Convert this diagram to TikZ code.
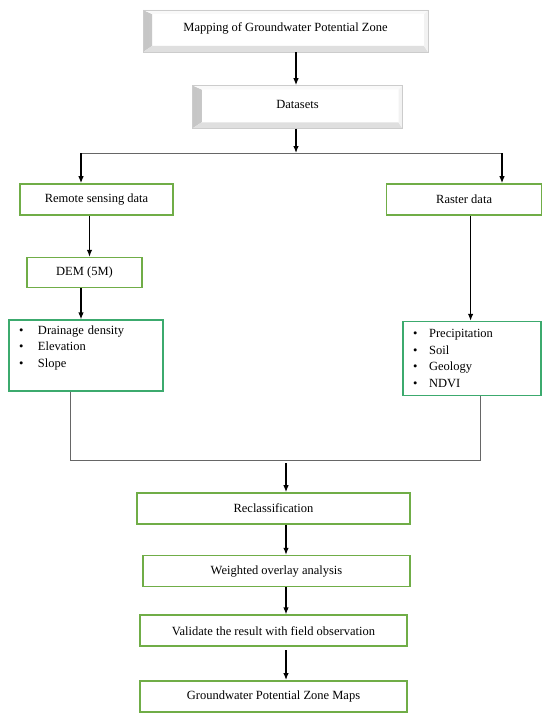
\documentclass[tikz,border=0pt]{standalone}
\usepackage{fontspec}
\setmainfont{Liberation Serif}
\usetikzlibrary{positioning,arrows.meta}
\definecolor{boxgreen}{RGB}{112,173,71}
\definecolor{listgreen}{RGB}{60,170,110}

\begin{document}
\begin{tikzpicture}
[x=1pt,y=1pt,>={Latex[length=7pt,width=5.5pt]},
 bevelbox/.style={draw=gray!40,fill=white,inner sep=0pt,font=\fontsize{12.5}{14}\selectfont,
   path picture={
     \shade[left color=gray!45,right color=gray!6] (path picture bounding box.south west) -- (path picture bounding box.north west)
       -- ([xshift=9pt,yshift=-4pt]path picture bounding box.north west) -- ([xshift=9pt,yshift=6pt]path picture bounding box.south west) -- cycle;
     \fill[gray!25] (path picture bounding box.south west) -- ([xshift=9pt,yshift=6pt]path picture bounding box.south west)
       -- ([xshift=-4pt,yshift=6pt]path picture bounding box.south east) -- (path picture bounding box.south east) -- cycle;
     \fill[gray!10] (path picture bounding box.north east) -- ([xshift=-4pt,yshift=-4pt]path picture bounding box.north east)
       -- ([xshift=-4pt,yshift=6pt]path picture bounding box.south east) -- (path picture bounding box.south east) -- cycle;
     \fill[gray!5] (path picture bounding box.north west) -- ([xshift=9pt,yshift=-4pt]path picture bounding box.north west)
       -- ([xshift=-4pt,yshift=-4pt]path picture bounding box.north east) -- (path picture bounding box.north east) -- cycle;}},
 stepbox/.style={draw=boxgreen,line width=1.6pt,minimum height=31pt,inner sep=0pt,font=\fontsize{12.5}{14}\selectfont},
 listbox/.style={draw=listgreen,line width=1.6pt,align=left,inner xsep=10pt,inner ysep=0pt,font=\fontsize{12.5}{16.5}\selectfont},
 link/.style={->,line width=1.2pt},
 wire/.style={draw=gray!80!black,line width=0.9pt}]
\useasboundingbox (0,0) rectangle (550,-717);
% top of the chart
\node[bevelbox,minimum width=285pt,minimum height=42pt] (map) at (285.5,-31) {\raisebox{7pt}{Mapping of Groundwater Potential Zone}};
\node[bevelbox,minimum width=210pt,minimum height=43pt,below=33pt of map,xshift=12pt] (data) {\raisebox{4pt}{Datasets}};
% two branches
\node[stepbox,minimum width=153pt] (remote) at (96.5,-199.5) {Remote sensing data};
\node[stepbox,minimum width=155pt,right=212pt of remote] (raster) {Raster data};
\node[stepbox,minimum width=115pt,minimum height=30pt,below=41pt of remote,xshift=-12pt] (dem) {DEM (5M)};
\node[listbox,text width=134pt,minimum height=71pt,below=31pt of dem,xshift=1.5pt] (llist)
  {\makebox[19pt][l]{\textbullet}Drainage density\\\makebox[19pt][l]{\textbullet}Elevation\\\makebox[19pt][l]{\textbullet}Slope\\[2pt]~};
\node[listbox,text width=118pt,minimum height=74pt,below=105pt of raster,xshift=8pt] (rlist)
  {\makebox[16pt][l]{\textbullet}Precipitation\\\makebox[16pt][l]{\textbullet}Soil\\\makebox[16pt][l]{\textbullet}Geology\\\makebox[16pt][l]{\textbullet}NDVI};
% processing chain
\node[stepbox,minimum width=273pt] (recl) at (273.5,-508.5) {Reclassification};
\node[stepbox,minimum width=267pt,below=30pt of recl,xshift=3pt] (weigh) {Weighted overlay analysis};
\node[stepbox,minimum width=267pt,below=27pt of weigh,xshift=-3pt] (valid) {Validate the result with field observation};
\node[stepbox,minimum width=267pt,below=33pt of valid] (maps) {Groundwater Potential Zone Maps};
% connectors
\coordinate (split) at (296,-153);
\coordinate (sl) at (81,-153);
\coordinate (sr) at (502,-153);
\coordinate (jl) at (70,-460);
\coordinate (jr) at (480,-460);
\coordinate (j) at (286,-460);
\draw[link] (map.south -| split) -- (data.north -| split);
\draw[link] (data.south -| split) -- (split);
\draw[wire] (sl) -- (sr);
\draw[link] (sl) -- (sl |- remote.north);
\draw[link] (sr) -- (sr |- raster.north);
\draw[link] ([xshift=5pt]dem.north |- remote.south) -- ([xshift=5pt]dem.north);
\draw[link] ([xshift=-3.5pt]dem.south) -- ([xshift=-3.5pt]dem.south |- llist.north);
\draw[link] ([xshift=6.5pt]raster.south) -- ([xshift=6.5pt]raster.south |- rlist.north);
\draw[wire] (llist.south -| jl) -- (jl) -- (jr) -- (rlist.south -| jr);
\draw[link] ([yshift=-3pt]j) -- (j |- recl.north);
\draw[link] (recl.south -| j) -- (weigh.north -| j);
\draw[link] (weigh.south -| j) -- (valid.north -| j);
\draw[link] ([yshift=-3pt]valid.south -| j) -- (maps.north -| j);
\end{tikzpicture}
\end{document}
